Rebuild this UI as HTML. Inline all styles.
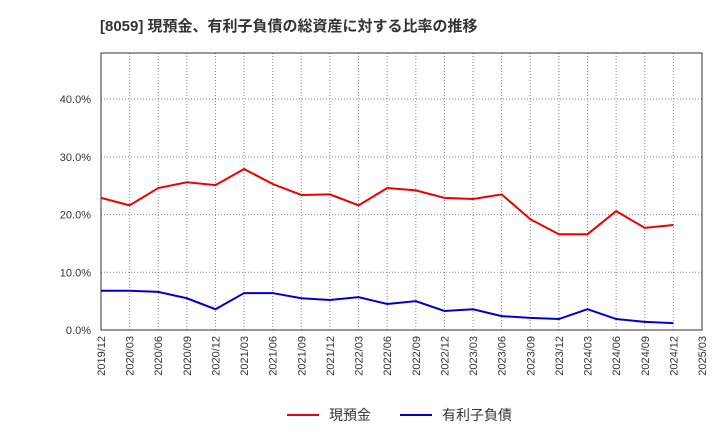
<!DOCTYPE html>
<html><head><meta charset="utf-8"><style>
body{margin:0;background:#fff;font-family:"Liberation Sans","Noto Sans CJK JP",sans-serif;}
</style></head><body>
<svg width="720" height="440" xmlns="http://www.w3.org/2000/svg">
<text x="100" y="31" font-size="15" font-weight="bold" fill="#333" font-family="Liberation Sans, Noto Sans CJK JP, sans-serif">[8059]  現預金、有利子負債の総資産に対する比率の推移</text>
<g id="grid"></g>
<rect x="101" y="53" width="601" height="277" fill="none" stroke="#333"/>
<g id="axes"></g>
<g id="series"></g>
<g>
<line x1="287" y1="415" x2="319" y2="415" stroke="#e00" stroke-width="2"/>
<text x="329" y="420" font-size="14" fill="#333">現預金</text>
<line x1="400" y1="415" x2="432" y2="415" stroke="#00c" stroke-width="2"/>
<text x="442" y="420" font-size="14" fill="#333">有利子負債</text>
</g>
</svg>
<script>
const categories=["2019/12","2020/03","2020/06","2020/09","2020/12","2021/03","2021/06","2021/09","2021/12","2022/03","2022/06","2022/09","2022/12","2023/03","2023/06","2023/09","2023/12","2024/03","2024/06","2024/09","2024/12","2025/03"];
const cashValues=[22.9,21.6,24.6,25.6,25.1,27.9,25.3,23.4,23.5,21.6,24.6,24.2,22.9,22.7,23.5,19.2,16.6,16.6,20.6,17.7,18.2];
const debtValues=[6.8,6.8,6.6,5.5,3.6,6.4,6.4,5.5,5.2,5.7,4.5,5.0,3.3,3.6,2.4,2.1,1.9,3.6,1.9,1.4,1.2];
const yTicks=[0,10,20,30,40];
const NS="http://www.w3.org/2000/svg";
const x0=101,x1=702,y0=330,yTop=53,yMax=48;
function xs(i){return x0+i*(x1-x0)/(categories.length-1);}
function ys(v){return y0-v*(y0-yTop)/yMax;}
const grid=document.getElementById('grid'),axes=document.getElementById('axes'),ser=document.getElementById('series');
function mk(tag,attrs,parent){const e=document.createElementNS(NS,tag);for(const k in attrs)e.setAttribute(k,attrs[k]);parent.appendChild(e);return e;}
categories.forEach((c,i)=>{
  const l=mk('line',{x1:xs(i),x2:xs(i),y1:yTop,y2:y0,stroke:'#888','stroke-dasharray':'1,2'},grid);
  
  
  const t=mk('text',{x:0,y:0,'font-size':11,fill:'#333','text-anchor':'end',transform:`translate(${xs(i)+4},${y0+6}) rotate(-90)`},axes);
  t.textContent=c;
  
  
});
yTicks.forEach(v=>{
  if(v>0){const l=mk('line',{x1:x0,x2:x1,y1:ys(v),y2:ys(v),stroke:'#888','stroke-dasharray':'1,2'},grid);
  
  }
  const t=mk('text',{x:91,y:ys(v)+4,'font-size':11,fill:'#333','text-anchor':'end'},axes);
  t.textContent=v.toFixed(1)+'%';
  
  
});
function line(vals,color,name){
  const p=mk('polyline',{points:vals.map((v,i)=>xs(i)+','+ys(v)).join(' '),fill:'none',stroke:color,'stroke-width':2},ser);
  
  
}
line(cashValues,'#e00','cash-line');
line(debtValues,'#00c','debt-line');
</script>
</body></html>
